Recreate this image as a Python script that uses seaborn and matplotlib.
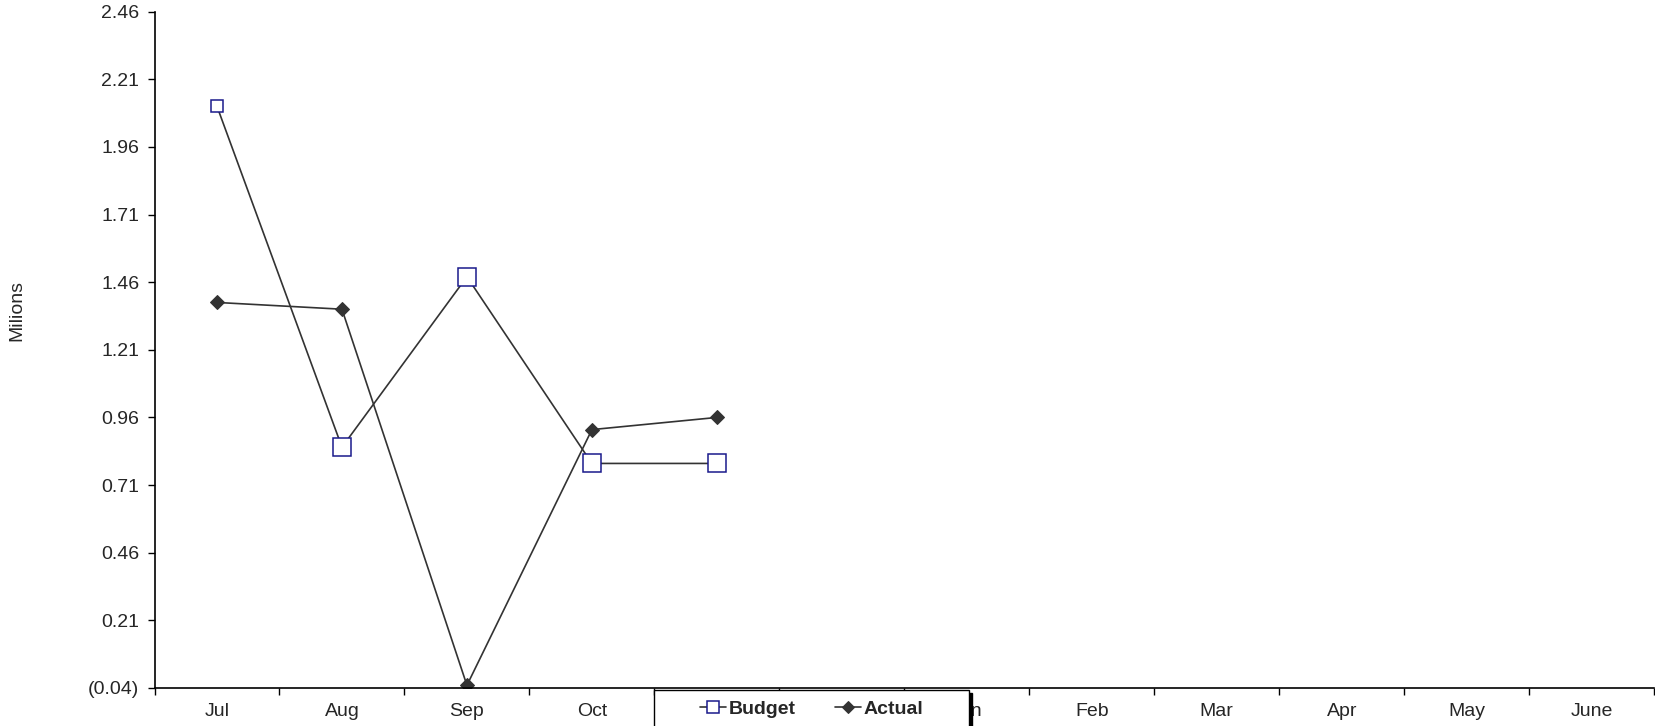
import matplotlib
matplotlib.use("Agg")
import matplotlib.pyplot as plt
from matplotlib.patches import Rectangle
from matplotlib.ticker import FuncFormatter, FixedLocator
import numpy as np
import pandas as pd
import seaborn as sns

months = ["Jul", "Aug", "Sep", "Oct", "Nov", "Dec", "Jan", "Feb", "Mar", "Apr", "May", "June"]
data_months = ["Jul", "Aug", "Sep", "Oct", "Nov"]
budget = [2.11, 0.85, 1.48, 0.79, 0.79]
actual = [1.385, 1.36, -0.03, 0.915, 0.96]
y_ticks = [-0.04, 0.21, 0.46, 0.71, 0.96, 1.21, 1.46, 1.71, 1.96, 2.21, 2.46]

sns.set_theme(style="white")
plt.rcParams["font.family"] = ["Liberation Sans", "DejaVu Sans"]

df = pd.DataFrame({
    "pos": [months.index(m) for m in data_months],
    "Budget": budget,
    "Actual": actual,
})

W, H = 1655, 726
fig = plt.figure(figsize=(W / 100, H / 100), dpi=100)
ax = fig.add_axes([154.5 / W, 1 - 688 / H, 1 - 154.5 / W - 0.0005, (688 - 11.6) / H])

line_col = "#333333"
navy = "#1a1a8c"
sns.lineplot(data=df, x="pos", y="Budget", ax=ax, color=line_col, linewidth=1.2,
             marker="s", markersize=13, markerfacecolor="white",
             markeredgecolor=navy, markeredgewidth=1.1, label="Budget", legend=False)
sns.lineplot(data=df, x="pos", y="Actual", ax=ax, color=line_col, linewidth=1.2,
             marker="D", markersize=7, markerfacecolor="#333333",
             markeredgecolor="#333333", label="Actual", legend=False)

# first budget marker is drawn smaller in the original
ax.lines[0].set_markevery([1, 2, 3, 4])
ax.plot(df["pos"][:1], df["Budget"][:1], linestyle="none", marker="s", markersize=8,
        markerfacecolor="white", markeredgecolor=navy, markeredgewidth=1.1)

ax.set_xlim(-0.5, len(months) - 0.5)
ax.set_ylim(y_ticks[0], y_ticks[-1])
ax.set_xticks(range(len(months)))
ax.set_xticklabels(months, fontsize=14)
ax.xaxis.set_minor_locator(FixedLocator(np.arange(-0.5, len(months), 1.0)))
ax.tick_params(axis="x", which="major", length=0, pad=10.5)
ax.tick_params(axis="x", which="minor", length=5, width=1, color="black", direction="out")
ax.set_yticks(y_ticks)
ax.yaxis.set_major_formatter(FuncFormatter(lambda v, p: f"({abs(v):.2f})" if v < 0 else f"{v:.2f}"))
ax.tick_params(axis="y", length=5, width=1, color="black", direction="out", labelsize=14, pad=6)
ax.tick_params(axis="both", bottom=True, left=True)
ax.xaxis.set_tick_params(which="minor", bottom=True)

for s in ["top", "right"]:
    ax.spines[s].set_visible(False)
for s in ["left", "bottom"]:
    ax.spines[s].set_color("black")
    ax.spines[s].set_linewidth(1.2)

ax.set_xlabel("")
ax.set_ylabel("Milions", fontsize=14)
ax.yaxis.set_label_coords(-0.086, 0.558)

# legend box with black drop shadow, drawn in figure pixels
box_x0, box_x1, box_y0, box_y1 = 654, 969, 690, 730
shadow = Rectangle((box_x0 + 3, H - box_y1 - 3), box_x1 - box_x0, box_y1 - box_y0,
                   transform=None, facecolor="black", edgecolor="black", zorder=8)
frame = Rectangle((box_x0, H - box_y1), box_x1 - box_x0, box_y1 - box_y0,
                  transform=None, facecolor="white", edgecolor="black", linewidth=1.0, zorder=9)
fig.add_artist(shadow)
fig.add_artist(frame)

handles = [ax.lines[0], ax.lines[1]]
leg = fig.legend(handles, ["Budget", "Actual"], loc="center",
                 bbox_to_anchor=(811.5 / W, 1 - 709 / H), ncol=2, frameon=False,
                 prop={"weight": "bold", "size": 14},
                 handlelength=1.35, handletextpad=0.15, columnspacing=2.0, borderpad=0,
                 borderaxespad=0)
leg.set_zorder(10)
for h in leg.legend_handles:
    h.set_markersize(9 if h.get_marker() == "s" else 6)

fig.savefig("out.png", dpi=100)
